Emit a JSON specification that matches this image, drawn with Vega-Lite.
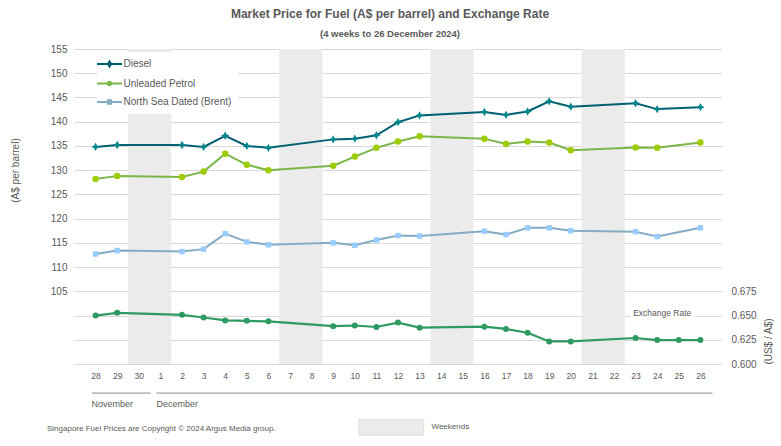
{
  "$schema": "https://vega.github.io/schema/vega-lite/v6.json",
  "autosize": {"type": "none"},
  "width": 648,
  "height": 315,
  "padding": {"left": 74, "top": 49, "right": 59, "bottom": 82},
  "background": "white",
  "title": {
    "text": "Market Price for Fuel (A$ per barrel) and Exchange Rate",
    "subtitle": "(4 weeks to 26 December 2024)",
    "font": "Liberation Sans",
    "subtitleFont": "Liberation Sans",
    "fontSize": 12,
    "fontWeight": "bold",
    "color": "#595959",
    "subtitleFontSize": 9.5,
    "subtitleFontWeight": "bold",
    "subtitleColor": "#595959",
    "subtitlePadding": 8,
    "offset": 5,
    "anchor": "middle",
    "dx": -8
  },
  "config": {
    "font": "Liberation Sans",
    "view": {"stroke": null},
    "axis": {"labelColor": "#595959", "titleColor": "#595959", "gridColor": "#d9d9d9", "gridWidth": 1, "domain": false, "ticks": false}
  },
  "datasets": {
    "prices": [
      {"date": "2024-11-28", "Diesel": 134.8, "Unleaded Petrol": 128.2, "North Sea Dated (Brent)": 112.7, "Exchange Rate": 0.65},
      {"date": "2024-11-29", "Diesel": 135.2, "Unleaded Petrol": 128.8, "North Sea Dated (Brent)": 113.4, "Exchange Rate": 0.6528},
      {"date": "2024-12-02", "Diesel": 135.2, "Unleaded Petrol": 128.6, "North Sea Dated (Brent)": 113.2, "Exchange Rate": 0.6507},
      {"date": "2024-12-03", "Diesel": 134.8, "Unleaded Petrol": 129.7, "North Sea Dated (Brent)": 113.7, "Exchange Rate": 0.648},
      {"date": "2024-12-04", "Diesel": 137.1, "Unleaded Petrol": 133.4, "North Sea Dated (Brent)": 116.9, "Exchange Rate": 0.645},
      {"date": "2024-12-05", "Diesel": 135.0, "Unleaded Petrol": 131.1, "North Sea Dated (Brent)": 115.2, "Exchange Rate": 0.6445},
      {"date": "2024-12-06", "Diesel": 134.6, "Unleaded Petrol": 130.0, "North Sea Dated (Brent)": 114.6, "Exchange Rate": 0.644},
      {"date": "2024-12-09", "Diesel": 136.35, "Unleaded Petrol": 130.9, "North Sea Dated (Brent)": 115.0, "Exchange Rate": 0.639},
      {"date": "2024-12-10", "Diesel": 136.5, "Unleaded Petrol": 132.8, "North Sea Dated (Brent)": 114.5, "Exchange Rate": 0.6397},
      {"date": "2024-12-11", "Diesel": 137.2, "Unleaded Petrol": 134.6, "North Sea Dated (Brent)": 115.6, "Exchange Rate": 0.6382},
      {"date": "2024-12-12", "Diesel": 139.9, "Unleaded Petrol": 135.9, "North Sea Dated (Brent)": 116.5, "Exchange Rate": 0.6427},
      {"date": "2024-12-13", "Diesel": 141.3, "Unleaded Petrol": 137.0, "North Sea Dated (Brent)": 116.4, "Exchange Rate": 0.6375},
      {"date": "2024-12-16", "Diesel": 142.0, "Unleaded Petrol": 136.5, "North Sea Dated (Brent)": 117.4, "Exchange Rate": 0.6385},
      {"date": "2024-12-17", "Diesel": 141.4, "Unleaded Petrol": 135.4, "North Sea Dated (Brent)": 116.7, "Exchange Rate": 0.6362},
      {"date": "2024-12-18", "Diesel": 142.1, "Unleaded Petrol": 135.9, "North Sea Dated (Brent)": 118.1, "Exchange Rate": 0.6323},
      {"date": "2024-12-19", "Diesel": 144.2, "Unleaded Petrol": 135.7, "North Sea Dated (Brent)": 118.1, "Exchange Rate": 0.6233},
      {"date": "2024-12-20", "Diesel": 143.1, "Unleaded Petrol": 134.1, "North Sea Dated (Brent)": 117.5, "Exchange Rate": 0.6233},
      {"date": "2024-12-23", "Diesel": 143.8, "Unleaded Petrol": 134.7, "North Sea Dated (Brent)": 117.3, "Exchange Rate": 0.6268},
      {"date": "2024-12-24", "Diesel": 142.6, "Unleaded Petrol": 134.6, "North Sea Dated (Brent)": 116.3, "Exchange Rate": 0.6247},
      {"date": "2024-12-25", "Exchange Rate": 0.6247},
      {"date": "2024-12-26", "Diesel": 143.0, "Unleaded Petrol": 135.7, "North Sea Dated (Brent)": 118.1, "Exchange Rate": 0.6247}
    ],
    "weekends": [
      {"sat": "2024-11-30", "sun": "2024-12-01", "kind": "Weekends"},
      {"sat": "2024-12-07", "sun": "2024-12-08", "kind": "Weekends"},
      {"sat": "2024-12-14", "sun": "2024-12-15", "kind": "Weekends"},
      {"sat": "2024-12-21", "sun": "2024-12-22", "kind": "Weekends"}
    ],
    "months": [
      {"month": "November", "first": "2024-11-28", "last": "2024-11-30"},
      {"month": "December", "first": "2024-12-01", "last": "2024-12-26"}
    ]
  },
  "layer": [
    {
      "data": {"name": "weekends"},
      "mark": {"type": "rect", "xOffset": -10.8, "x2Offset": 10.8},
      "encoding": {
        "x": {
          "field": "sat",
          "type": "temporal",
          "title": "Singapore  Fuel Prices are Copyright © 2024  Argus Media group.",
          "scale": {"type": "utc", "domain": [{"year": 2024, "month": 11, "date": 27, "utc": true}, {"year": 2024, "month": 12, "date": 27, "utc": true}]},
          "axis": {
            "orient": "bottom",
            "grid": false,
            "tickCount": {"interval": "day", "step": 1},
            "labelExpr": "utcdate(datum.value) == 27 ? '' : utcFormat(datum.value, '%-d')",
            "labelFontSize": 8.5,
            "labelPadding": 7,
            "labelFlush": false,
            "labelOverlap": false,
            "titleFontSize": 8,
            "titleFontWeight": "normal",
            "titleX": -27.5,
            "titleY": 64,
            "titleAlign": "left",
            "titleBaseline": "middle"
          }
        },
        "x2": {"field": "sun"},
        "fill": {
          "field": "kind",
          "type": "nominal",
          "scale": {"range": ["#ebebeb"]},
          "legend": {
            "orient": "none",
            "legendX": 300.75,
            "legendY": 361.75,
            "title": null,
            "symbolType": "M-2,-0.5H2V0.5H-2Z",
            "symbolSize": 1056,
            "symbolStrokeColor": "#d0d0d0",
            "symbolStrokeWidth": 0.5,
            "symbolOpacity": 1,
            "labelFontSize": 8,
            "labelColor": "#595959",
            "labelOffset": 23.75,
            "padding": 0
          }
        }
      }
    },
    {
      "data": {"name": "prices"},
      "transform": [
        {"fold": ["Diesel", "Unleaded Petrol", "North Sea Dated (Brent)"], "as": ["series", "value"]},
        {"filter": "isValid(datum.value)"}
      ],
      "encoding": {
        "x": {"field": "date", "type": "temporal", "title": "Singapore  Fuel Prices are Copyright © 2024  Argus Media group."},
        "y": {
          "field": "value",
          "type": "quantitative",
          "scale": {"domain": [90, 155], "zero": false, "nice": false},
          "axis": {
            "orient": "left",
            "values": [105, 110, 115, 120, 125, 130, 135, 140, 145, 150, 155],
            "grid": true,
            "labelFontSize": 10,
            "labelPadding": 7,
            "title": "(A$ per barrel)",
            "titleFontSize": 10,
            "titleFontWeight": "normal",
            "titleAngle": -90,
            "titleX": -59,
            "titleY": 121,
            "titleAlign": "center",
            "titleBaseline": "middle"
          }
        }
      },
      "layer": [
        {
          "mark": {"type": "line", "strokeWidth": 2},
          "encoding": {
            "stroke": {
              "field": "series",
              "type": "nominal",
              "scale": {"domain": ["Diesel", "Unleaded Petrol", "North Sea Dated (Brent)"], "range": ["#005f73", "#7ab648", "#84abc4"]},
              "legend": {
                "orient": "none",
                "legendX": 23.5,
                "legendY": 3,
                "title": null,
                "fillColor": "white",
                "padding": 6,
                "symbolSize": 100,
                "symbolStrokeWidth": 2,
                "labelFontSize": 10,
                "labelColor": "#595959",
                "labelOffset": 8,
                "rowPadding": 6.5,
                "labelLimit": 200,
                "encode": {
                  "symbols": {
                    "update": {
                      "shape": {"signal": "datum.value == 'Diesel' ? 'M-2.5,0H2.5M0,-0.5L0.16,-0.16L0.5,0L0.16,0.16L0,0.5L-0.16,0.16L-0.5,0L-0.16,-0.16Z' : datum.value == 'Unleaded Petrol' ? 'M-2.5,0H2.5M0.35,0A0.35,0.35 0 1,1 -0.35,0A0.35,0.35 0 1,1 0.35,0Z' : 'M-2.5,0H2.5M-0.33,-0.33H0.33V0.33H-0.33Z'"},
                      "fill": {"signal": "datum.value == 'Diesel' ? '#00878c' : datum.value == 'Unleaded Petrol' ? '#9fcc00' : '#99ccff'"}
                    }
                  }
                }
              }
            }
          }
        },
        {
          "transform": [{"filter": "datum.series == 'Diesel'"}],
          "mark": {"type": "point", "filled": true, "opacity": 1, "color": "#00878c", "size": 70, "shape": "M0,-1L0.35,-0.35L1,0L0.35,0.35L0,1L-0.35,0.35L-1,0L-0.35,-0.35Z"}
        },
        {
          "transform": [{"filter": "datum.series == 'Unleaded Petrol'"}],
          "mark": {"type": "point", "filled": true, "opacity": 1, "color": "#9fcc00", "size": 42, "shape": "circle"}
        },
        {
          "transform": [{"filter": "datum.series == 'North Sea Dated (Brent)'"}],
          "mark": {"type": "point", "filled": true, "opacity": 1, "color": "#99ccff", "size": 30, "shape": "square"}
        }
      ]
    },
    {
      "data": {"name": "months"},
      "layer": [
        {
          "mark": {"type": "rule", "color": "#8c8c8c", "strokeWidth": 1, "xOffset": -4, "x2Offset": 12},
          "encoding": {
            "x": {"field": "first", "type": "temporal", "title": "Singapore  Fuel Prices are Copyright © 2024  Argus Media group."},
            "x2": {"field": "last"},
            "y": {"datum": 84, "type": "quantitative", "scale": {"domain": [90, 155], "zero": false, "nice": false}, "axis": null}
          }
        },
        {
          "mark": {"type": "text", "align": "left", "baseline": "middle", "fontSize": 9, "color": "#595959", "xOffset": -4},
          "encoding": {
            "x": {"field": "first", "type": "temporal", "title": "Singapore  Fuel Prices are Copyright © 2024  Argus Media group."},
            "y": {"datum": 81.7, "type": "quantitative", "scale": {"domain": [90, 155], "zero": false, "nice": false}, "axis": null},
            "text": {"field": "month"}
          }
        }
      ]
    },
    {
      "data": {"name": "prices"},
      "transform": [{"filter": "isValid(datum['Exchange Rate'])"}],
      "encoding": {
        "x": {"field": "date", "type": "temporal", "title": "Singapore  Fuel Prices are Copyright © 2024  Argus Media group."},
        "y": {
          "field": "Exchange Rate",
          "type": "quantitative",
          "scale": {"domain": [0.6, 0.925], "zero": false, "nice": false},
          "axis": {
            "orient": "right",
            "values": [0.6, 0.625, 0.65, 0.675],
            "format": ".3f",
            "grid": true,
            "labelFontSize": 10,
            "labelPadding": 9,
            "title": "(US$ / A$)",
            "titleFontSize": 10,
            "titleFontWeight": "normal",
            "titleAngle": -90,
            "titleX": 46,
            "titleY": 292,
            "titleAlign": "center",
            "titleBaseline": "middle"
          }
        }
      },
      "layer": [
        {"mark": {"type": "line", "color": "#2e9a62", "strokeWidth": 2.2}},
        {"mark": {"type": "point", "filled": true, "color": "#2e9a62", "size": 36, "opacity": 1}}
      ]
    },
    {
      "data": {"values": [{"label": "Exchange  Rate"}]},
      "layer": [
        {
          "mark": {"type": "rect", "color": "white", "xOffset": -5, "x2Offset": -5},
          "encoding": {
            "x": {"datum": {"year": 2024, "month": 12, "date": 23, "utc": true}, "type": "temporal"},
            "x2": {"datum": {"year": 2024, "month": 12, "date": 26, "utc": true}},
            "y": {"datum": 0.648, "type": "quantitative", "scale": {"domain": [0.6, 0.925], "zero": false, "nice": false}, "axis": null},
            "y2": {"datum": 0.6575}
          }
        },
        {
          "mark": {"type": "text", "fontSize": 8.5, "color": "#595959", "align": "center", "baseline": "middle", "xOffset": 5},
          "encoding": {
            "x": {"datum": {"year": 2024, "month": 12, "date": 24, "utc": true}, "type": "temporal"},
            "y": {"datum": 0.6528, "type": "quantitative", "scale": {"domain": [0.6, 0.925], "zero": false, "nice": false}, "axis": null},
            "text": {"field": "label"}
          }
        }
      ]
    }
  ],
  "resolve": {"scale": {"y": "independent", "fill": "independent"}}
}
